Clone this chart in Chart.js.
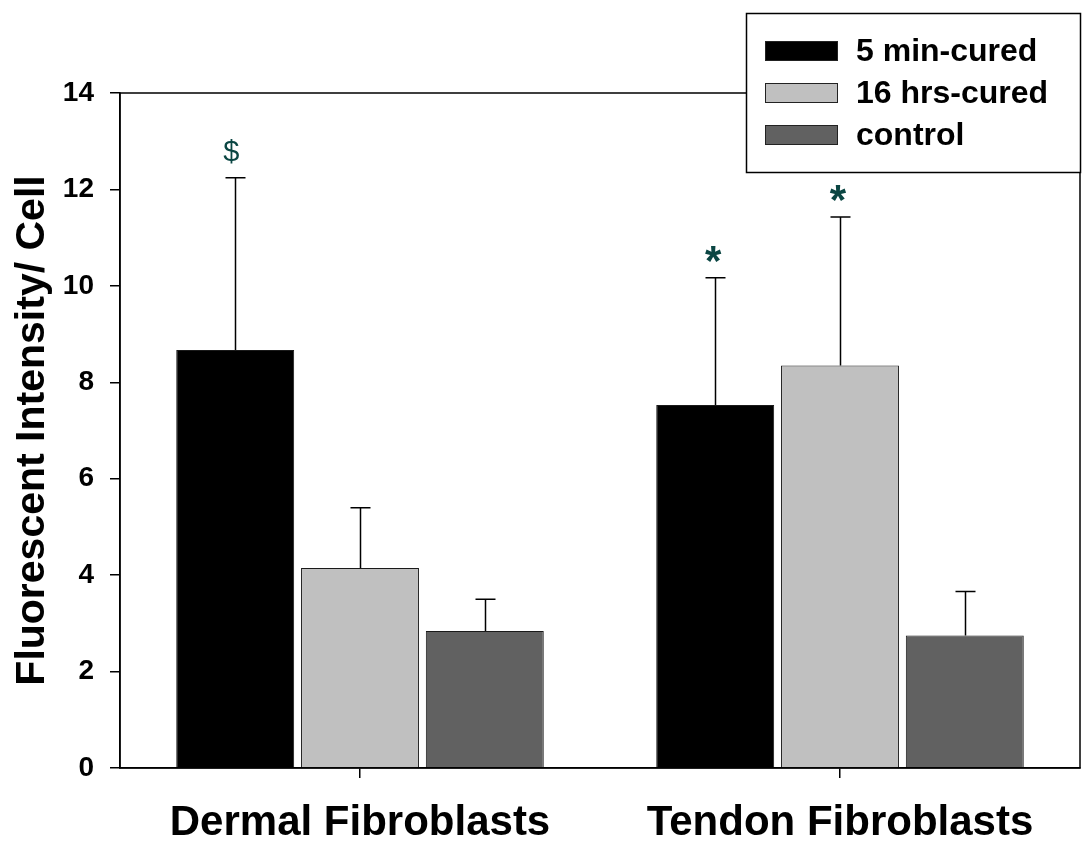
<!DOCTYPE html>
<html>
<head>
<meta charset="utf-8">
<script src="https://cdn.jsdelivr.net/npm/chart.js@4.4.1/dist/chart.umd.min.js"></script>
<style>
  html, body { margin: 0; padding: 0; background: #fff; }
  #wrap { width: 1083px; height: 844px; }
</style>
</head>
<body>
<div id="wrap"><canvas id="chartCanvas" width="1083" height="844"></canvas></div>
<script>
// Datos
const categorias = ['Dermal Fibroblasts', 'Tendon Fibroblasts'];
const series = ['5 min-cured', '16 hrs-cured', 'control'];
const cincoMin = [8.67, 7.53];
const dieciseisHrs = [4.15, 8.35];
const control = [2.84, 2.75];
// desviaciones (solo se dibuja la mitad superior)
const errCincoMin = [3.57, 2.64];
const errDieciseisHrs = [1.25, 3.08];
const errControl = [0.66, 0.91];
// marcas de significancia: [serie, categoria, simbolo]
const marcas = [[0, 0, '$'], [0, 1, '*'], [1, 1, '*']];
const yTicks = [0, 2, 4, 6, 8, 10, 12, 14];

const colores = ['#000000', '#c0c0c0', '#616161'];
const errores = [errCincoMin, errDieciseisHrs, errControl];

const FONT = '"Liberation Sans", Arial, sans-serif';

// barras de error, marco y marcas
const extrasPlugin = {
    id: 'extras',
    afterDatasetsDraw(chart) {
        const c = chart.ctx;
        const y = chart.scales.y;
        c.save();
        c.strokeStyle = '#000';
        c.lineWidth = 1.5;
        chart.data.datasets.forEach((ds, i) => {
            const meta = chart.getDatasetMeta(i);
            meta.data.forEach((bar, j) => {
                const top = y.getPixelForValue(ds.data[j] + errores[i][j]);
                const x = Math.round(bar.x) + 0.5;
                c.beginPath();
                c.moveTo(x, bar.y);
                c.lineTo(x, top);
                c.moveTo(x - 10, top);
                c.lineTo(x + 10, top);
                c.stroke();
            });
        });
        // marco del área de trazado
        const a = chart.chartArea;
        c.lineWidth = 1.5;
        c.strokeRect(a.left, a.top, a.right - a.left, a.bottom - a.top);
        // marcas
        c.fillStyle = '#0b4643';
        c.textAlign = 'center';
        c.textBaseline = 'alphabetic';
        marcas.forEach(([i, j, s]) => {
            const bar = chart.getDatasetMeta(i).data[j];
            const top = y.getPixelForValue(chart.data.datasets[i].data[j] + errores[i][j]);
            if (s === '$') {
                c.font = '29px ' + FONT;
                c.fillText(s, bar.x - 4, top - 17);
            } else {
                c.font = 'bold 42px ' + FONT;
                c.fillText(s, bar.x - 2, top - 3);
            }
        });
        c.restore();
    },
    afterDraw(chart) {
        // leyenda con recuadro
        const c = chart.ctx;
        c.save();
        c.fillStyle = '#fff';
        c.fillRect(746, 13, 334, 159);
        c.strokeStyle = '#000';
        c.lineWidth = 1.5;
        c.strokeRect(746.5, 13.5, 334, 159);
        c.font = 'bold 32px ' + FONT;
        c.textBaseline = 'middle';
        c.textAlign = 'left';
        series.forEach((s, i) => {
            const yy = 51 + i * 42;
            c.fillStyle = colores[i];
            c.fillRect(765, yy - 10, 73, 20);
            c.strokeStyle = '#222';
            c.lineWidth = 1;
            c.strokeRect(765.5, yy - 9.5, 72, 19);
            c.fillStyle = '#000';
            c.fillText(s, 856, yy + 1);
        });
        c.restore();
    }
};

const ctx = document.getElementById('chartCanvas').getContext('2d');
const chart = new Chart(ctx, {
    type: 'bar',
    data: {
        labels: categorias,
        datasets: [cincoMin, dieciseisHrs, control].map((d, i) => ({
            label: series[i],
            data: d,
            backgroundColor: colores[i],
            borderColor: '#1a1a1a',
            borderWidth: 1,
            categoryPercentage: 0.78,
            barPercentage: 0.945
        }))
    },
    options: {
        responsive: false,
        animation: false,
        layout: { padding: { top: 93, right: 3, left: 0, bottom: 0 } },
        plugins: {
            legend: { display: false },
            tooltip: { enabled: false }
        },
        scales: {
            x: {
                grid: {
                    offset: false,
                    drawOnChartArea: false,
                    tickLength: 10,
                    color: '#000',
                    lineWidth: 1.5
                },
                border: { display: true, color: '#000', width: 1.5 },
                ticks: {
                    color: '#000',
                    padding: 20,
                    font: { family: FONT, size: 42, weight: 'bold' }
                },
                afterFit(scale) { scale.height = 76; }
            },
            y: {
                min: 0,
                max: 14,
                afterBuildTicks(scale) { scale.ticks = yTicks.map(v => ({ value: v })); },
                grid: {
                    drawOnChartArea: false,
                    tickLength: 10,
                    color: '#000',
                    lineWidth: 1.5
                },
                border: { display: true, color: '#000', width: 1.5 },
                ticks: {
                    color: '#000',
                    padding: 16,
                    font: { family: FONT, size: 28, weight: 'bold' }
                },
                title: {
                    display: true,
                    text: 'Fluorescent Intensity/ Cell',
                    color: '#000',
                    padding: { top: 8, bottom: 6 },
                    font: { family: FONT, size: 41, weight: 'bold' }
                },
                afterFit(scale) { scale.width = 120; }
            }
        }
    },
    plugins: [extrasPlugin]
});
</script>
</body>
</html>
